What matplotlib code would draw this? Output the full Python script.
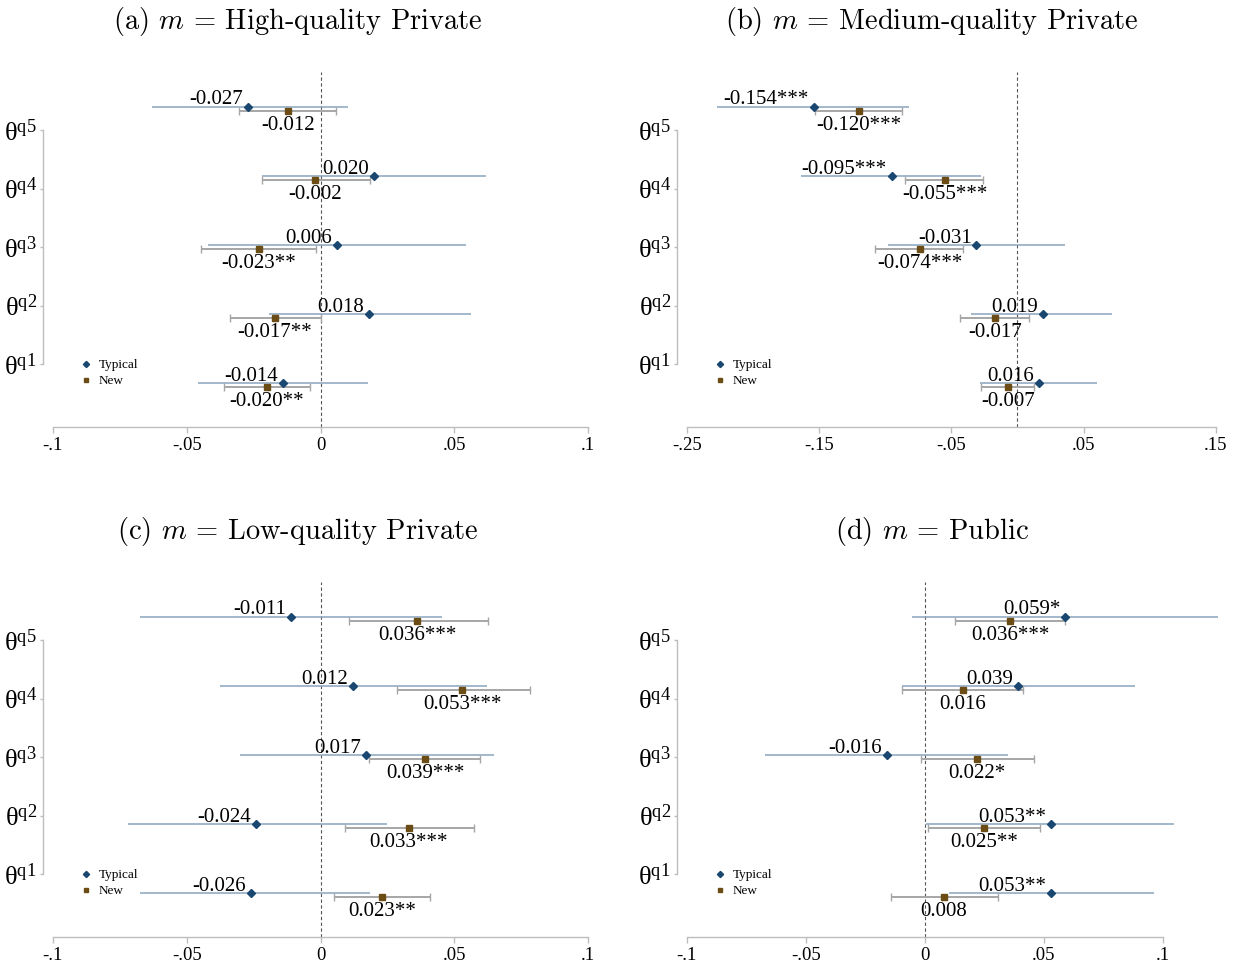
import numpy as np
import matplotlib
matplotlib.use("Agg")
import matplotlib.pyplot as plt

plt.rcParams['font.family'] = ['Liberation Serif', 'DejaVu Serif']
plt.rcParams['mathtext.fontset'] = 'custom'
plt.rcParams['mathtext.rm'] = 'Liberation Serif'
plt.rcParams['mathtext.it'] = 'Liberation Serif:italic'

# quintiles listed q1..q5
quintiles = ['q1', 'q2', 'q3', 'q4', 'q5']

titles = ['(a) $m$ = High-quality Private',
          '(b) $m$ = Medium-quality Private',
          '(c) $m$ = Low-quality Private',
          '(d) $m$ = Public']

# Typical estimates, 95% CI bounds and significance stars
typ_est = [[-0.014, 0.018, 0.006, 0.020, -0.027],
           [0.016, 0.019, -0.031, -0.095, -0.154],
           [-0.026, -0.024, 0.017, 0.012, -0.011],
           [0.053, 0.053, -0.016, 0.039, 0.059]]
typ_lo = [[-0.0457, -0.0191, -0.0421, -0.0219, -0.0631],
          [-0.0281, -0.0350, -0.0978, -0.1634, -0.2274],
          [-0.0673, -0.0721, -0.0302, -0.0377, -0.0676],
          [0.0104, 0.0007, -0.0670, -0.0097, -0.0055]]
typ_hi = [[0.0177, 0.0562, 0.0545, 0.0618, 0.0102],
          [0.0601, 0.0718, 0.0356, -0.0275, -0.0817],
          [0.0183, 0.0248, 0.0647, 0.0622, 0.0454],
          [0.0962, 0.1048, 0.0348, 0.0882, 0.1233]]
typ_stars = [['', '', '', '', ''],
             ['', '', '', '***', '***'],
             ['', '', '', '', ''],
             ['**', '**', '', '', '*']]

# New estimates, 95% CI bounds and significance stars
new_est = [[-0.020, -0.017, -0.023, -0.002, -0.012],
           [-0.007, -0.017, -0.074, -0.055, -0.120],
           [0.023, 0.033, 0.039, 0.053, 0.036],
           [0.008, 0.025, 0.022, 0.016, 0.036]]
new_lo = [[-0.0359, -0.0340, -0.0446, -0.0219, -0.0303],
          [-0.0275, -0.0434, -0.1074, -0.0850, -0.1532],
          [0.0050, 0.0090, 0.0180, 0.0285, 0.0105],
          [-0.0140, 0.0013, -0.0017, -0.0097, 0.0129]]
new_hi = [[-0.0040, 0.0000, -0.0019, 0.0185, 0.0059],
          [0.0123, 0.0090, -0.0413, -0.0263, -0.0874],
          [0.0407, 0.0572, 0.0594, 0.0783, 0.0624],
          [0.0307, 0.0485, 0.0461, 0.0411, 0.0590]]
new_stars = [['**', '**', '**', '', ''],
             ['', '', '***', '***', '***'],
             ['**', '***', '***', '***', '***'],
             ['', '**', '*', '', '***']]

xticks = [[-0.1, -0.05, 0, 0.05, 0.1],
          [-0.25, -0.15, -0.05, 0.05, 0.15],
          [-0.1, -0.05, 0, 0.05, 0.1],
          [-0.1, -0.05, 0, 0.05, 0.1]]
xticklabels = [['-.1', '-.05', '0', '.05', '.1'],
               ['-.25', '-.15', '-.05', '.05', '.15'],
               ['-.1', '-.05', '0', '.05', '.1'],
               ['-.1', '-.05', '0', '.05', '.1']]
xlims = [(-0.1037, 0.104), (-0.2573, 0.1644), (-0.1037, 0.104), (-0.1041, 0.1304)]

TYP_COL = '#1a476f'
TYP_CI = '#8aa4be'
NEW_COL = '#6b4c14'
NEW_CI = '#a6a6a6'
AX_COL = '#bdbdbd'

W, H = 1247, 969
fig = plt.figure(figsize=(W / 100, H / 100), dpi=100)

# axes boxes in pixels: left, top, right, bottom
boxes = [(43, 72, 599, 427), (677, 72, 1235, 427),
         (43, 582, 599, 937), (677, 582, 1235, 937)]
title_xy = [(298, 21), (932, 21), (298, 531), (932, 531)]

y = np.arange(1, 6, dtype=float)
new_shift = 0.065
ytick_pos = 1.272 + 0.847 * np.arange(5)

for i in range(4):
    l, t, r, b = boxes[i]
    ax = fig.add_axes([l / W, 1 - b / H, (r - l) / W, (b - t) / H])
    ax.patch.set_alpha(0)

    te = np.array(typ_est[i])
    ne = np.array(new_est[i])
    terr = [te - np.array(typ_lo[i]), np.array(typ_hi[i]) - te]
    nerr = [ne - np.array(new_lo[i]), np.array(new_hi[i]) - ne]

    ax.axvline(0, color='#555555', lw=0.8, ls=(0, (3, 2.2)), zorder=1)
    ax.errorbar(te, y, xerr=terr, fmt='none', ecolor=TYP_CI,
                elinewidth=1.1, capsize=0, zorder=2)
    ax.errorbar(ne, y - new_shift, xerr=nerr, fmt='none', ecolor=NEW_CI,
                elinewidth=1.4, capsize=2.6, capthick=1.0, zorder=2)
    ax.plot(te, y, 'D', ms=4.2, color=TYP_COL, label='Typical', zorder=3)
    ax.plot(ne, y - new_shift, 's', ms=4.2, color=NEW_COL, label='New', zorder=3)

    for k in range(5):
        ax.annotate('%.3f%s' % (te[k], typ_stars[i][k]), (te[k], y[k]),
                    xytext=(-3.5, 1.5), textcoords='offset points',
                    ha='right', va='baseline', fontsize=15)
        ax.annotate('%.3f%s' % (ne[k], new_stars[i][k]), (ne[k], y[k] - new_shift),
                    xytext=(0, -3.5), textcoords='offset points',
                    ha='center', va='top', fontsize=15)

    ax.set_xlim(*xlims[i])
    ax.set_ylim(0.36, 5.5)
    ax.set_xticks(xticks[i])
    ax.set_xticklabels(xticklabels[i], fontsize=13.5)
    ax.set_yticks(ytick_pos)
    ax.set_yticklabels([r'$\mathrm{θ}^{\mathrm{%s}}$' % q for q in quintiles],
                       fontsize=19)

    for s in ['top', 'right']:
        ax.spines[s].set_visible(False)
    ax.spines['left'].set_bounds(ytick_pos[0], ytick_pos[-1])
    ax.spines['bottom'].set_bounds(xticks[i][0], xticks[i][-1])
    for s in ['left', 'bottom']:
        ax.spines[s].set_color(AX_COL)
        ax.spines[s].set_linewidth(1.0)
    ax.tick_params(axis='x', length=4, width=1, color=AX_COL, pad=3)
    ax.tick_params(axis='y', length=2.5, width=1, color=AX_COL, pad=2)

    ax.legend(loc='upper left', bbox_to_anchor=(0.055, 0.21), frameon=False,
              fontsize=9.5, handlelength=0.9, handletextpad=0.5,
              labelspacing=0.3, markerscale=0.75, borderpad=0)

    tx, ty = title_xy[i]
    fig.text(tx / W, 1 - ty / H, titles[i], ha='center', va='center',
             fontsize=20.5, family='cmr10', math_fontfamily='cm')

fig.savefig('out.png', dpi=100)
